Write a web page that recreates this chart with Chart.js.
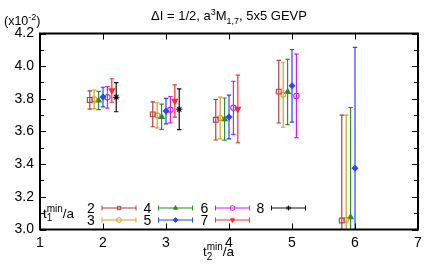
<!DOCTYPE html>
<html>
<head>
<meta charset="utf-8">
<script src="https://cdn.jsdelivr.net/npm/chart.js@4"></script>
<style>
  html, body { margin: 0; padding: 0; background: #fff; }
  #wrap { width: 436px; height: 273px; position: relative; }
</style>
</head>
<body>
<div id="wrap"><canvas id="grafico"></canvas></div>
<script>
// ==========================
// Data
// ==========================
const t2Values = [2, 3, 4, 5, 6];
const t1Values = [2, 3, 4, 5, 6, 7, 8];

const y_t1_2 = [3.793, 3.705, 3.672, 3.844, 3.055];
const e_t1_2 = [0.056, 0.076, 0.124, 0.192, 0.645];
const y_t1_3 = [3.797, 3.699, 3.683, 3.825, 3.060];
const e_t1_3 = [0.057, 0.077, 0.128, 0.199, 0.640];
const y_t1_4 = [3.790, 3.690, 3.676, 3.842, 3.075];
const e_t1_4 = [0.056, 0.077, 0.129, 0.200, 0.672];
const y_t1_5 = [3.811, 3.725, 3.689, 3.880, 3.375];
const e_t1_5 = [0.060, 0.078, 0.134, 0.222, 0.740];
const y_t1_6 = [3.809, 3.733, 3.745, 3.818, null];
const e_t1_6 = [0.066, 0.080, 0.162, 0.256, null];
const y_t1_7 = [3.851, 3.787, 3.738, null, null];
const e_t1_7 = [0.072, 0.099, 0.207, null, null];
const y_t1_8 = [3.810, 3.736, null, null, null];
const e_t1_8 = [0.089, 0.125, null, null, null];

const yTicks = [3.0, 3.2, 3.4, 3.6, 3.8, 4.0, 4.2];
const xTicks = [1, 2, 3, 4, 5, 6, 7];

const FONT = "'Liberation Sans', Arial, sans-serif";

// estilo de cada serie
const estilos = [
  { cor: "#b23c3c", ponto: "rect", raio: 3.4, cheio: false, rot: 0 },
  { cor: "#d4a020", ponto: "circle", raio: 2.5, cheio: false, rot: 0 },
  { cor: "#2e8b2e", ponto: "triangle", raio: 3.1, cheio: true, rot: 0 },
  { cor: "#2a44ff", ponto: "rectRot", raio: 2.7, cheio: true, rot: 0 },
  { cor: "#cc22ee", ponto: "circle", raio: 2.7, cheio: false, rot: 0 },
  { cor: "#ff2a2a", ponto: "triangle", raio: 3.2, cheio: true, rot: 180 },
  { cor: "#111111", ponto: "star", raio: 3.2, cheio: false, rot: 0 },
];

const ySeries = [y_t1_2, y_t1_3, y_t1_4, y_t1_5, y_t1_6, y_t1_7, y_t1_8];
const eSeries = [e_t1_2, e_t1_3, e_t1_4, e_t1_5, e_t1_6, e_t1_7, e_t1_8];

// deslocamento horizontal pequeno para separar as series
const passo = 0.07;

const datasets = t1Values.map((t1, k) => {
  const est = estilos[k];
  const pts = [];
  t2Values.forEach((t2, i) => {
    if (ySeries[k][i] === null) return;
    pts.push({ x: t2 + (t1 - 5) * passo, y: ySeries[k][i], err: eSeries[k][i] });
  });
  return {
    label: String(t1),
    data: pts,
    borderColor: est.cor,
    backgroundColor: est.cheio ? est.cor : "rgba(0,0,0,0)",
    pointStyle: est.ponto,
    pointRadius: est.raio,
    pointRotation: est.rot,
    pointBorderWidth: 1.1,
    showLine: false,
  };
});

// ==========================
// Text with super/subscripts
// ==========================
function textoRico(ctx, partes, x, y, tam) {
  const pequeno = Math.round(tam * 0.72);
  let cx = x;
  partes.forEach((p) => {
    if (p.empilhado) {
      ctx.font = pequeno + "px " + FONT;
      ctx.fillText(p.sup, cx, y - tam * 0.42);
      ctx.fillText(p.sub, cx, y + tam * 0.28);
      cx += Math.max(ctx.measureText(p.sup).width, ctx.measureText(p.sub).width);
    } else if (p.sup) {
      ctx.font = pequeno + "px " + FONT;
      ctx.fillText(p.sup, cx, y - tam * 0.42);
      cx += ctx.measureText(p.sup).width;
    } else if (p.sub) {
      ctx.font = pequeno + "px " + FONT;
      ctx.fillText(p.sub, cx, y + tam * 0.28);
      cx += ctx.measureText(p.sub).width;
    } else {
      ctx.font = tam + "px " + FONT;
      ctx.fillText(p.t, cx, y);
      cx += ctx.measureText(p.t).width;
    }
  });
  return cx - x;
}

function larguraRica(ctx, partes, tam) {
  ctx.save();
  ctx.globalAlpha = 0;
  const w = textoRico(ctx, partes, 0, -100, tam);
  ctx.restore();
  return w;
}

// ==========================
// Plugin: error bars
// ==========================
const barrasErro = {
  id: "barrasErro",
  beforeDatasetsDraw(chart) {
    const ctx = chart.ctx;
    const ys = chart.scales.y;
    const area = chart.chartArea;
    ctx.save();
    ctx.beginPath();
    ctx.rect(area.left, area.top, area.right - area.left, area.bottom - area.top);
    ctx.clip();
    chart.data.datasets.forEach((ds, k) => {
      const meta = chart.getDatasetMeta(k);
      ctx.strokeStyle = ds.borderColor;
      ctx.lineWidth = 1.2;
      ds.data.forEach((d, i) => {
        const px = meta.data[i].x;
        const yTop = ys.getPixelForValue(d.y + d.err);
        const yBot = ys.getPixelForValue(d.y - d.err);
        ctx.beginPath();
        ctx.moveTo(px, yTop);
        ctx.lineTo(px, yBot);
        ctx.moveTo(px - 2.2, yTop);
        ctx.lineTo(px + 2.2, yTop);
        ctx.moveTo(px - 2.2, yBot);
        ctx.lineTo(px + 2.2, yBot);
        ctx.stroke();
      });
    });
    ctx.restore();
  },
};

// ==========================
// Plugin: frame, ticks, texts, legend
// ==========================
const moldura = {
  id: "moldura",
  afterDraw(chart) {
    const ctx = chart.ctx;
    const a = chart.chartArea;
    const xs = chart.scales.x;
    const ys = chart.scales.y;
    ctx.save();

    // ticks para dentro
    ctx.strokeStyle = "#000";
    ctx.lineWidth = 1;
    ctx.beginPath();
    xTicks.forEach((v) => {
      const px = Math.round(xs.getPixelForValue(v)) + 0.5;
      ctx.moveTo(px, a.bottom);
      ctx.lineTo(px, a.bottom - 6);
      ctx.moveTo(px, a.top);
      ctx.lineTo(px, a.top + 6);
    });
    for (let v = 3.0; v <= 4.2001; v += 0.1) {
      const py = Math.round(ys.getPixelForValue(v)) + 0.5;
      const maior = Math.abs(v * 5 - Math.round(v * 5)) < 0.01;
      const len = maior ? 6 : 4;
      ctx.moveTo(a.left, py);
      ctx.lineTo(a.left + len, py);
      ctx.moveTo(a.right, py);
      ctx.lineTo(a.right - len, py);
    }
    ctx.stroke();

    // caixa
    ctx.lineWidth = 2;
    ctx.strokeRect(a.left, a.top, a.right - a.left, a.bottom - a.top);

    ctx.fillStyle = "#000";
    ctx.textBaseline = "alphabetic";
    ctx.textAlign = "left";

    // titulo
    const titulo = [
      { t: "\u0394I = 1/2, a" }, { sup: "3" }, { t: "M" }, { sub: "1,7" }, { t: ", 5x5 GEVP" },
    ];
    const wt = larguraRica(ctx, titulo, 13);
    textoRico(ctx, titulo, (a.left + a.right) / 2 - wt / 2, 20, 13);

    // fator de escala
    textoRico(ctx, [{ t: "(x10" }, { sup: "-2" }, { t: ")" }], 4, 25, 12.5);

    // titulo do eixo x
    textoRico(ctx, [{ t: "t" }, { empilhado: true, sup: "min", sub: "2" }, { t: "/a" }],
      (a.left + a.right) / 2 - 26, 256, 13.5);

    // legenda
    const legY = [a.bottom - 21.5, a.bottom - 9.5];
    const colX = [a.left + 62, a.left + 118.5, a.left + 175.5, a.left + 231.5];
    textoRico(ctx, [{ t: "t" }, { empilhado: true, sup: "min", sub: "1" }, { t: "/a" }],
      a.left + 3, a.bottom - 12, 13.5);

    chart.data.datasets.forEach((ds, k) => {
      const col = Math.floor(k / 2);
      const lin = k % 2;
      const x0 = colX[col];
      const yy = legY[lin];
      const x1 = x0 + 34;
      const xm = (x0 + x1) / 2;
      ctx.font = "14px " + FONT;
      ctx.textAlign = "center";
      ctx.fillStyle = "#000";
      ctx.fillText(ds.label, x0 - 11, yy + 5);
      ctx.strokeStyle = ds.borderColor;
      ctx.lineWidth = 1;
      ctx.beginPath();
      ctx.moveTo(x0, yy);
      ctx.lineTo(x1, yy);
      ctx.moveTo(x0, yy - 2.5);
      ctx.lineTo(x0, yy + 2.5);
      ctx.moveTo(x1, yy - 2.5);
      ctx.lineTo(x1, yy + 2.5);
      ctx.stroke();
      ctx.fillStyle = ds.backgroundColor;
      Chart.helpers.drawPoint(ctx, {
        pointStyle: ds.pointStyle,
        rotation: ds.pointRotation,
        radius: 2.4,
        borderWidth: 1,
      }, xm, yy);
    });

    ctx.restore();
  },
};

// ==========================
// Chart
// ==========================
const ctx = document.getElementById("grafico").getContext("2d");
new Chart(ctx, {
  type: "scatter",
  data: { datasets },
  options: {
    responsive: true,
    maintainAspectRatio: false,
    animation: false,
    layout: { padding: { top: 33.5, right: 18, bottom: 23.5, left: 0 } },
    plugins: { legend: { display: false }, tooltip: { enabled: false }, title: { display: false } },
    scales: {
      x: {
        type: "linear",
        min: 1,
        max: 7,
        afterBuildTicks: (s) => { s.ticks = xTicks.map((v) => ({ value: v })); },
        afterFit: (s) => { s.height = 20; },
        ticks: { color: "#000", font: { family: FONT, size: 14 }, padding: 5, autoSkip: false, maxRotation: 0 },
        grid: { display: false, drawTicks: false },
        border: { display: false },
      },
      y: {
        min: 3.0,
        max: 4.2,
        afterBuildTicks: (s) => { s.ticks = yTicks.map((v) => ({ value: v })); },
        afterFit: (s) => { s.width = 40; },
        ticks: {
          color: "#000",
          font: { family: FONT, size: 14 },
          padding: 6,
          autoSkip: false,
          callback: (v) => Number(v).toFixed(1),
        },
        grid: { display: false, drawTicks: false },
        border: { display: false },
      },
    },
  },
  plugins: [barrasErro, moldura],
});
</script>
</body>
</html>
